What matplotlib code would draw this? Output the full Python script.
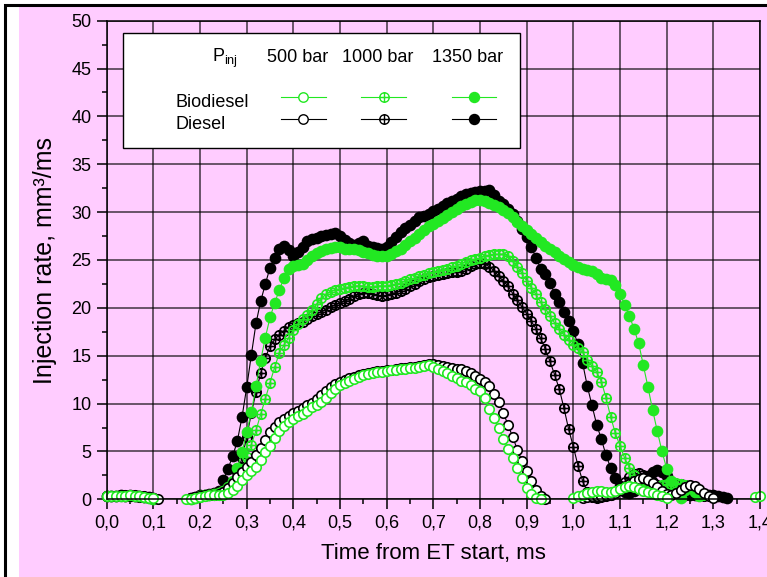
import numpy as np
import matplotlib.pyplot as plt
from matplotlib.path import Path
from matplotlib.patches import Rectangle

plt.rcParams['font.family'] = ['Liberation Sans', 'DejaVu Sans']
plt.rcParams['mathtext.fontset'] = 'custom'
plt.rcParams['mathtext.rm'] = 'Liberation Sans'

N = None

# sampling grid, ms (one value every 0.01 ms, 0.00 .. 1.40)
time_ms = np.round(np.arange(141) * 0.01, 2)

# injection rate, mm3/ms -- each row covers 0.1 ms
bio_500 = [
    0.3, 0.35, 0.35, 0.3, 0.35, 0.4, 0.35, 0.3, 0.2, 0.15,
    0.1, N, N, N, N, N, N, 0.0, 0.05, 0.15,
    0.25, 0.35, 0.4, 0.4, 0.45, 0.5, 0.7, 1.0, 1.4, 2.0,
    2.5, 3.0, 3.4, 4.1, 4.9, 5.6, 6.4, 7.1, 7.7, 8.1,
    8.4, 8.7, 8.9, 9.2, 9.6, 9.9, 10.2, 10.6, 11.1, 11.5,
    11.9, 12.2, 12.4, 12.6, 12.8, 13.0, 13.1, 13.2, 13.3, 13.3,
    13.4, 13.5, 13.5, 13.6, 13.6, 13.7, 13.7, 13.8, 13.9, 14.0,
    13.8, 13.6, 13.4, 13.2, 12.9, 12.7, 12.4, 12.3, 11.9, 11.5,
    11.3, 10.6, 9.4, 8.5, 7.5, 6.3, 5.3, 4.3, 3.3, 2.2,
    1.2, 0.6, 0.15, 0.05, N, N, N, N, N, N,
    0.1, 0.35, 0.5, 0.7, 0.8, 0.9, 0.85, 0.8, 0.8, 0.85,
    1.1, 1.3, 1.4, 1.3, 1.1, 0.9, 0.8, 0.7, 0.5, 0.35,
    0.1, N, N, N, N, N, N, N, N, N,
    N, N, N, N, N, N, N, N, N, 0.2,
    0.3]

dsl_500 = [
    0.3, 0.3, 0.35, 0.4, 0.4, 0.35, 0.4, 0.35, 0.3, 0.2,
    0.1, 0.0, N, N, N, N, N, N, 0.1, 0.2,
    0.3, 0.4, 0.5, 0.5, 0.6, 0.8, 1.2, 1.7, 2.3, 2.9,
    3.4, 3.9, 4.6, 5.4, 6.2, 7.0, 7.6, 8.1, 8.4, 8.7,
    9.0, 9.2, 9.5, 9.8, 10.1, 10.5, 10.9, 11.3, 11.7, 12.0,
    12.3, 12.5, 12.7, 12.8, 13.0, 13.1, 13.2, 13.3, 13.4, 13.4,
    13.5, 13.5, 13.6, 13.7, 13.7, 13.8, 13.8, 13.9, 14.0, 14.1,
    14.1, 14.0, 13.9, 13.8, 13.7, 13.6, 13.6, 13.4, 13.2, 12.9,
    12.6, 12.3, 11.8, 11.0, 10.2, 9.0, 7.8, 6.5, 5.2, 4.0,
    3.0, 1.9, 1.0, 0.3, 0.05, N, N, N, N, N,
    N, N, 0.1, 0.2, 0.3, 0.3, 0.3, 0.4, 0.5, 0.7,
    1.0, 1.3, 1.6, 1.9, 2.1, 2.2, 2.0, 1.7, 1.3, 0.9,
    0.6, 0.5, 0.7, 1.0, 1.3, 1.5, 1.4, 1.1, 0.7, 0.3,
    0.1, N, N, N, N, N, N, N, N, N,
    N]

bio_1000 = [
    0.3, 0.3, 0.3, 0.35, 0.3, 0.3, 0.35, 0.3, 0.2, 0.1,
    0.05, N, N, N, N, N, N, N, 0.05, 0.15,
    0.25, 0.3, 0.4, 0.45, 0.5, 0.6, 0.9, 1.4, 2.2, 3.2,
    4.4, 5.7, 7.2, 8.9, 10.5, 12.2, 13.8, 15.3, 16.1, 16.9,
    17.7, 18.3, 18.8, 19.3, 19.8, 20.4, 21.0, 21.4, 21.7, 21.9,
    22.0, 22.1, 22.2, 22.3, 22.3, 22.3, 22.2, 22.2, 22.3, 22.3,
    22.3, 22.4, 22.5, 22.6, 22.8, 23.0, 23.1, 23.3, 23.4, 23.6,
    23.7, 23.9, 24.0, 24.1, 24.3, 24.4, 24.6, 24.8, 25.0, 25.1,
    25.2, 25.4, 25.5, 25.6, 25.6, 25.6, 25.4, 24.9, 24.3, 23.6,
    22.8, 22.1, 21.4, 20.6, 19.9, 19.2, 18.4, 17.8, 17.2, 16.6,
    16.1, 15.8, 15.4, 14.6, 13.9, 13.3, 12.3, 10.6, 8.6, 6.9,
    5.6, 4.3, 3.3, 2.5, 1.9, 1.5, 1.2, 1.3, 1.4, 1.5,
    1.6, 1.6, 1.7, 1.6, 1.5, 1.3, 1.0, 0.7, 0.4, N,
    N, N, N, N, N, N, N, N, N, N,
    N]

dsl_1000 = [
    0.3, 0.35, 0.3, 0.3, 0.35, 0.3, 0.3, 0.25, 0.2, 0.1,
    0.05, N, N, N, N, N, N, N, 0.1, 0.2,
    0.3, 0.4, 0.5, 0.6, 0.7, 0.9, 1.2, 1.8, 2.8, 4.3,
    6.5, 9.0, 11.2, 13.2, 14.8, 16.0, 16.7, 17.2, 17.6, 18.0,
    18.2, 18.4, 18.5, 18.8, 19.1, 19.4, 19.6, 19.8, 20.1, 20.3,
    20.5, 20.7, 20.9, 21.2, 21.4, 21.6, 21.6, 21.5, 21.3, 21.2,
    21.3, 21.5, 21.6, 21.8, 22.0, 22.3, 22.5, 22.8, 23.0, 23.2,
    23.3, 23.4, 23.5, 23.6, 23.7, 23.7, 23.9, 24.1, 24.4, 24.6,
    24.7, 24.6, 24.3, 23.9, 23.3, 22.8, 22.3, 21.5, 20.8, 20.1,
    19.4, 18.6, 17.8, 16.8, 15.7, 14.4, 13.0, 11.5, 9.5, 7.3,
    5.5, 3.5, 1.9, 0.8, 0.2, 0.1, 0.2, 0.3, 0.5, 0.8,
    1.2, 1.8, 2.3, 2.6, 2.7, 2.5, 2.2, 1.8, 1.5, 1.3,
    1.2, 1.3, 1.5, 1.6, 1.5, 1.3, 1.0, 0.6, 0.3, N,
    N, N, N, N, N, N, N, N, N, N,
    N]

bio_1350 = [
    0.3, 0.3, 0.3, 0.35, 0.3, 0.3, 0.3, 0.3, 0.2, 0.1,
    0.05, N, N, N, N, N, N, N, 0.05, 0.15,
    0.3, 0.4, 0.5, 0.6, 0.7, 0.9, 1.3, 1.9, 3.3, 4.9,
    7.0, 9.1, 11.8, 14.5, 16.9, 19.0, 20.5, 21.9, 23.1, 24.1,
    24.4, 24.5, 24.6, 25.0, 25.4, 25.7, 25.9, 26.1, 26.3, 26.4,
    26.4, 26.2, 26.1, 26.1, 26.0, 25.8, 25.7, 25.5, 25.4, 25.4,
    25.4, 25.6, 25.9, 26.2, 26.6, 27.0, 27.3, 27.7, 28.1, 28.5,
    28.8, 29.1, 29.4, 29.7, 30.0, 30.3, 30.6, 30.9, 31.1, 31.3,
    31.3, 31.2, 31.0, 30.7, 30.5, 30.2, 29.9, 29.5, 29.0, 28.5,
    28.1, 27.7, 27.3, 26.9, 26.5, 26.1, 25.8, 25.4, 25.1, 24.8,
    24.5, 24.3, 24.1, 24.0, 23.8, 23.5, 23.1, 23.0, 22.9, 22.4,
    21.5, 20.3, 19.2, 17.8, 16.3, 14.0, 11.7, 9.3, 7.1, 5.0,
    3.2, 1.9, 0.8, 0.1, 1.0, 1.3, 0.8, 0.3, N, N,
    N, N, N, N, N, N, N, N, N, N,
    N]

dsl_1350 = [
    0.3, 0.3, 0.35, 0.4, 0.35, 0.4, 0.35, 0.3, 0.25, 0.2,
    0.1, N, N, N, N, N, N, N, 0.1, 0.25,
    0.4, 0.5, 0.6, 0.7, 0.9, 2.0, 3.2, 4.5, 6.1, 8.6,
    11.7, 15.1, 18.4, 20.7, 22.5, 24.2, 25.2, 26.1, 26.5, 26.0,
    25.4, 25.8, 26.4, 27.0, 27.2, 27.3, 27.5, 27.6, 27.7, 27.8,
    27.5, 27.1, 26.8, 26.6, 26.8, 27.0, 26.5, 26.4, 26.3, 26.2,
    26.4, 26.9, 27.4, 27.9, 28.3, 28.7, 29.1, 29.5, 29.6, 29.8,
    30.1, 30.3, 30.6, 31.0, 31.2, 31.4, 31.7, 31.9, 32.0, 32.1,
    32.2, 32.2, 32.3, 31.8, 31.2, 30.8, 30.3, 29.8, 29.1, 28.2,
    27.4, 26.4, 25.2, 24.1, 23.5, 22.6, 21.5, 20.6, 19.6, 18.6,
    17.6, 16.2, 14.2, 11.8, 9.8, 7.8, 6.3, 4.6, 3.3, 2.2,
    1.4, 0.8, 0.7, 0.9, 1.3, 1.8, 2.4, 2.9, 3.1, 2.9,
    2.4, 1.8, 1.2, 0.8, 0.5, 0.4, 0.4, 0.5, 0.6, 0.5,
    0.4, 0.3, 0.2, 0.1, N, N, N, N, N, N,
    N]

pressures = ['500 bar', '1000 bar', '1350 bar']
fuels = ['Biodiesel', 'Diesel']
x_ticks = [0.0, 0.1, 0.2, 0.3, 0.4, 0.5, 0.6, 0.7, 0.8, 0.9, 1.0, 1.1, 1.2, 1.3, 1.4]
x_tick_labels = ['0,0', '0,1', '0,2', '0,3', '0,4', '0,5', '0,6', '0,7',
                 '0,8', '0,9', '1,0', '1,1', '1,2', '1,3', '1,4']
y_ticks = [0, 5, 10, 15, 20, 25, 30, 35, 40, 45, 50]

PINK = '#FFCCFF'
GREEN = '#22E822'

# circle with a cross inside
circ = Path.unit_circle()
oplus = Path(np.concatenate([circ.vertices, [[-1, 0], [1, 0], [0, -1], [0, 1]]]),
             np.concatenate([circ.codes, [Path.MOVETO, Path.LINETO, Path.MOVETO, Path.LINETO]]))

styles = {
    '500': dict(marker='o', mfc='white', ms=6.8),
    '1000': dict(marker=oplus, mfc='none', ms=6.8),
    '1350': dict(marker='o', mfc=None, ms=7.2),
}

fig = plt.figure(figsize=(7.67, 5.77), dpi=100)
fig.patch.set_facecolor('white')
W, H = 767, 577
fig.add_artist(Rectangle((19 / W, 0), 1, 1 - 7 / H, transform=fig.transFigure,
                         facecolor=PINK, edgecolor='none', zorder=0))
fig.add_artist(Rectangle((5 / W, -0.1), 2, 1.1 - 5 / H, transform=fig.transFigure,
                         facecolor='none', edgecolor='black', lw=2.2, zorder=0.5))

ax = fig.add_axes([106.7 / W, (H - 499.3) / H, 653.3 / W, 478.6 / H])
ax.set_facecolor(PINK)
ax.set_axisbelow(True)


def draw(values, color, key):
    st = dict(styles[key])
    mfc = st.pop('mfc') or color
    ax.plot(time_ms, np.array(values, dtype=float), color=color, lw=0.8,
            mfc=mfc, mec=color, mew=1.2, clip_on=False, **st)


draw(dsl_1350, 'black', '1350')
draw(dsl_1000, 'black', '1000')
draw(bio_1350, GREEN, '1350')
draw(bio_1000, GREEN, '1000')
draw(dsl_500, 'black', '500')
draw(bio_500, GREEN, '500')

ax.set_xlim(0, 1.4)
ax.set_ylim(0, 50)
ax.set_xticks(x_ticks)
ax.set_xticklabels(x_tick_labels)
ax.set_yticks(y_ticks)
ax.set_xticks(np.arange(0.05, 1.4, 0.1), minor=True)
ax.set_yticks(np.arange(2.5, 50, 5), minor=True)
ax.tick_params(which='major', direction='out', length=7, width=1.1,
               labelsize=13, pad=4, colors='black')
ax.tick_params(which='minor', direction='out', length=3.5, width=1.1)
ax.grid(which='major', color='black', alpha=0.75, lw=1.1)
for s in ax.spines.values():
    s.set_linewidth(1.1)

ax.set_xlabel('Time from ET start, ms', fontsize=16, labelpad=8)
ax.set_ylabel('Injection rate, mm³/ms', fontsize=18, labelpad=10)

# legend table
ax.add_patch(Rectangle((0.0245, 0.734), 0.608, 0.2397, transform=ax.transAxes,
                       facecolor='white', edgecolor='black', lw=1.0, zorder=1))
ax.text(0.1607, 0.9143, r'P$_{\mathrm{inj}}$', transform=ax.transAxes,
        fontsize=13, va='baseline', ha='left', zorder=3)
col_x = [0.301, 0.424, 0.562]
for x, lab in zip(col_x, pressures):
    ax.text(x - 0.009, 0.9143, lab, transform=ax.transAxes, fontsize=13,
            ha='center', va='baseline', zorder=3)
row_y = [0.840, 0.794]
row_base = [0.819, 0.773]
for yb, lab in zip(row_base, fuels):
    ax.text(0.1046, yb, lab, transform=ax.transAxes, fontsize=13,
            ha='left', va='baseline', zorder=3)
for y, color in zip(row_y, [GREEN, 'black']):
    for x, key in zip(col_x, ['500', '1000', '1350']):
        st = dict(styles[key])
        mfc = st.pop('mfc') or color
        ax.plot([x - 0.034, x + 0.034], [y, y], color=color, lw=0.8,
                transform=ax.transAxes, zorder=3)
        ax.plot([x], [y], transform=ax.transAxes, color=color, mfc=mfc,
                mec=color, mew=1.0, zorder=4, ls='none', **st)

fig.savefig('out.png', dpi=100)
